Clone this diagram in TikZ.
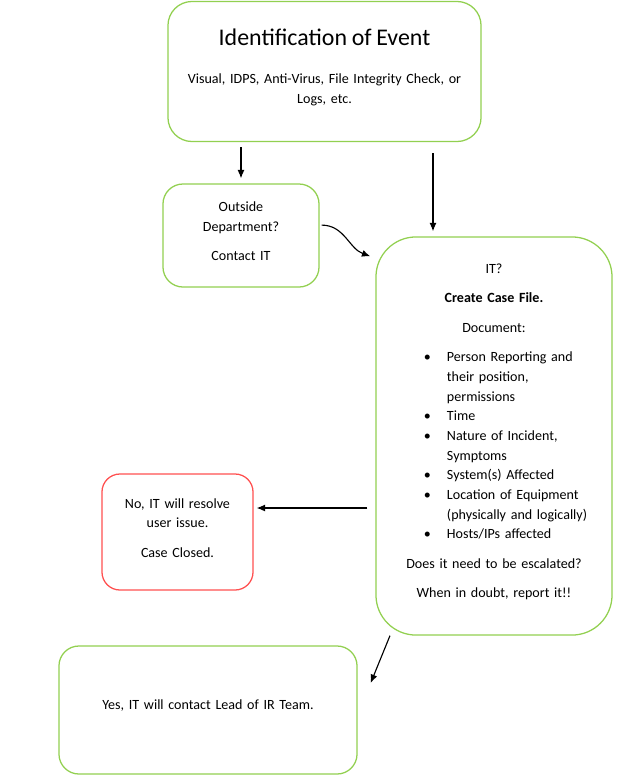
\documentclass[tikz,border=0pt]{standalone}
\usepackage{fontspec}
\setmainfont{Carlito}
\usepackage{tikz}
\usetikzlibrary{arrows.meta}

\definecolor{boxgreen}{RGB}{146,208,80}
\definecolor{boxred}{RGB}{255,80,80}

% bullet line of the case file list
\newcommand{\caseitem}[1]{{\leftskip=0.95cm\rightskip=0pt plus 1fil\parfillskip=0pt plus 1fil
    \noindent\hangindent=0.575cm\hangafter=1\makebox[0.575cm][l]{\textbullet}#1\par}}

\begin{document}
\begin{tikzpicture}[x=0.025cm, y=-0.025cm, >={Latex[length=6pt,width=5pt]}]

    \tikzstyle{green box} = [rectangle, draw=boxgreen, line width=0.9pt, rounded corners=0.5cm,
        align=center, inner sep=0pt, font=\fontsize{10}{14}\selectfont,
        execute at end node={\endgraf\vspace{6pt}\hrule height 0pt}];
    \tikzstyle{red box} = [green box, draw=boxred, rounded corners=0.45cm];

    \useasboundingbox (0,0) rectangle (633,778);

    % Boxes
    \node[green box, rounded corners=0.6cm, minimum width=7.825cm, minimum height=3.5cm,
          text width=7.4cm] (event) at (324.5,71.5)
        {{\fontsize{17}{20}\selectfont Identification of Event\par}
         \vspace{13pt}
         Visual, IDPS, Anti-Virus, File Integrity Check, or\\ Logs, etc.};

    \node[green box, minimum width=3.9cm, minimum height=2.575cm,
          text width=3.6cm] (outside) at (241,235.5)
        {Outside\\ Department?\par
         \vspace{7pt}
         Contact IT};

    \node[green box, rounded corners=1cm, minimum width=5.9cm, minimum height=9.95cm,
          text width=5.4cm] (it) at (494,436)
        {IT?\par
         \vspace{7pt}
         \textbf{Create Case File.}\par
         \vspace{7pt}
         Document:\par
         \vspace{7pt}
         \caseitem{Person Reporting and\newline their position,\newline permissions}
         \caseitem{Time}
         \caseitem{Nature of Incident,\newline Symptoms}
         \caseitem{System(s) Affected}
         \caseitem{Location of Equipment\newline (physically and logically)}
         \caseitem{Hosts/IPs affected}
         \vspace{7pt}
         Does it need to be escalated?\par
         \vspace{7pt}
         When in doubt, report it!!};

    \node[red box, minimum width=3.775cm, minimum height=2.9cm,
          text width=3.4cm] (no) at (177.5,532)
        {No, IT will resolve\\ user issue.\par
         \vspace{7pt}
         Case Closed.};

    \node[green box, minimum width=7.45cm, minimum height=3.2cm,
          text width=7cm] (yes) at (208,710)
        {Yes, IT will contact Lead of IR Team.};

    % Arrows
    \coordinate (right col) at (433,0);
    \coordinate (mid row) at (0,508);

    \draw [->, line width=0.8pt, shorten <=0.125cm, shorten >=0.125cm] (event.south -| outside.north)
        -- (outside.north);
    \draw [->, line width=0.8pt, shorten <=0.275cm, shorten >=0.125cm] (event.south -| right col)
        -- (it.north -| right col);
    \draw [->, line width=0.8pt] ([xshift=0.05cm, yshift=0.26cm]outside.east)
        to [out=0, in=160] ([xshift=-0.125cm, yshift=-0.5cm]it.north west);
    \draw [->, line width=0.8pt, shorten <=0.2cm, shorten >=0.075cm] (it.west |- mid row)
        -- (no.east |- mid row);
    \draw [->, line width=0.8pt] ([xshift=-2.6cm]it.south)
        -- ([xshift=0.325cm, yshift=0.675cm]yes.east);

\end{tikzpicture}
\end{document}
